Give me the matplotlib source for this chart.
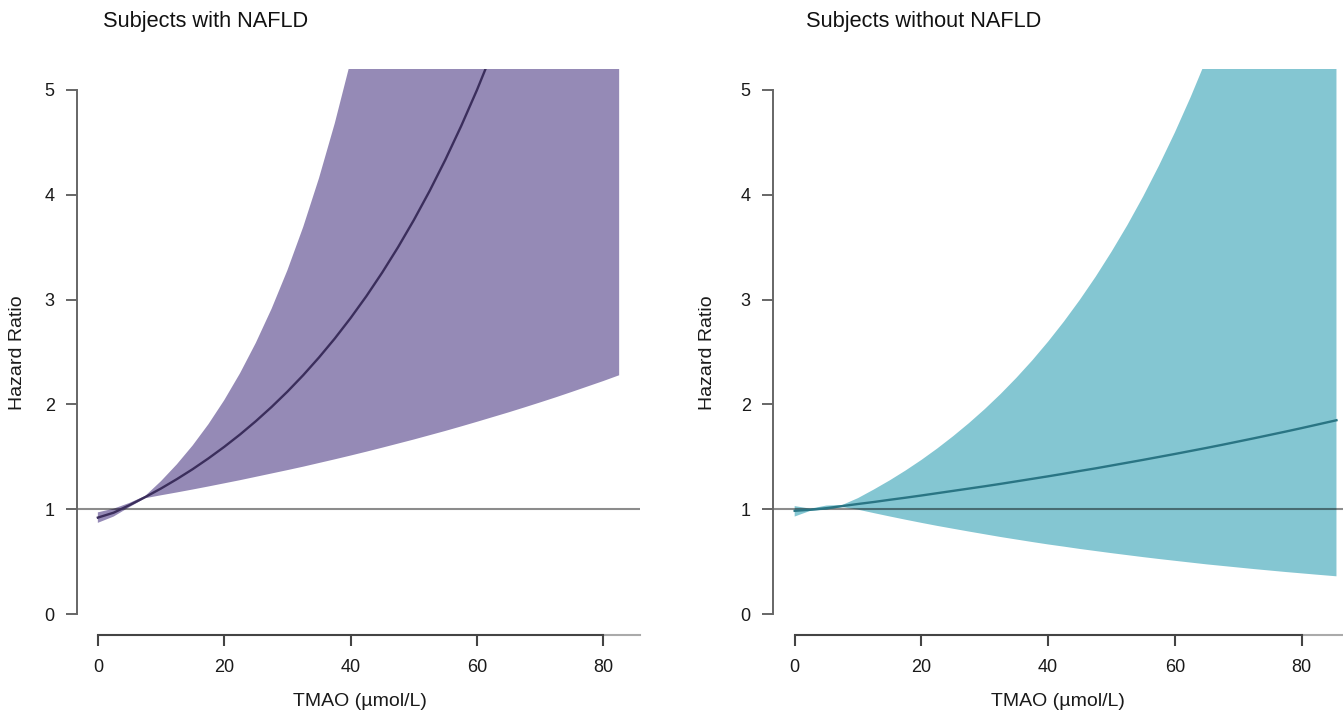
import matplotlib
matplotlib.use("Agg")
import matplotlib.pyplot as plt
import numpy as np

plt.rcParams['font.family'] = ['Liberation Sans', 'DejaVu Sans']

tmao_nafld = [0, 2.5, 5, 7.5, 10, 12.5, 15, 17.5, 20, 22.5, 25, 27.5, 30, 32.5,
              35, 37.5, 40, 42.5, 45, 47.5, 50, 52.5, 55, 57.5, 60, 62.5, 65,
              67.5, 70, 72.5, 75, 77.5, 80, 82.5]
hr_nafld = [0.92, 0.967, 1.039, 1.116, 1.198, 1.287, 1.382, 1.485, 1.595, 1.713,
            1.840, 1.976, 2.122, 2.279, 2.448, 2.629, 2.824, 3.033, 3.258, 3.499,
            3.758, 4.036, 4.335, 4.656, 5.00, 5.371, 5.768, 6.195, 6.655, 7.147,
            7.676, 8.245, 8.855, 9.51]
lo_nafld = [0.87, 0.93, 1.02, 1.105, 1.133, 1.160, 1.188, 1.217, 1.247, 1.277,
            1.309, 1.341, 1.373, 1.406, 1.441, 1.476, 1.512, 1.549, 1.587, 1.626,
            1.665, 1.706, 1.747, 1.790, 1.834, 1.879, 1.924, 1.971, 2.019, 2.068,
            2.119, 2.171, 2.223, 2.278]
hi_nafld = [0.97, 1.005, 1.06, 1.127, 1.268, 1.428, 1.608, 1.811, 2.040, 2.297,
            2.587, 2.913, 3.280, 3.693, 4.159, 4.683, 5.274, 5.94, 6.69, 7.53,
            8.48, 9.55, 10.75, 12.1, 13.6, 15.4, 17.3, 19.5, 21.9, 24.7,
            27.8, 31.3, 35.3, 39.7]

tmao_non = [0, 2.5, 5, 7.5, 10, 12.5, 15, 17.5, 20, 22.5, 25, 27.5, 30, 32.5,
            35, 37.5, 40, 42.5, 45, 47.5, 50, 52.5, 55, 57.5, 60, 62.5, 65,
            67.5, 70, 72.5, 75, 77.5, 80, 82.5, 85.5]
hr_non = [0.985, 0.995, 1.01, 1.03, 1.050, 1.069, 1.090, 1.110, 1.131, 1.153,
          1.175, 1.197, 1.219, 1.242, 1.266, 1.290, 1.314, 1.339, 1.365, 1.390,
          1.417, 1.444, 1.471, 1.499, 1.527, 1.556, 1.585, 1.615, 1.646, 1.677,
          1.709, 1.741, 1.774, 1.808, 1.849]
lo_non = [0.93, 0.985, 0.995, 1.02, 0.996, 0.963, 0.931, 0.900, 0.870, 0.841,
          0.814, 0.787, 0.761, 0.735, 0.711, 0.687, 0.664, 0.643, 0.621, 0.601,
          0.581, 0.562, 0.543, 0.525, 0.508, 0.491, 0.474, 0.459, 0.444, 0.429,
          0.415, 0.401, 0.388, 0.375, 0.360]
hi_non = [1.03, 1.005, 1.035, 1.04, 1.106, 1.188, 1.275, 1.369, 1.470, 1.579,
          1.696, 1.821, 1.955, 2.099, 2.254, 2.420, 2.599, 2.791, 2.997, 3.218,
          3.456, 3.710, 3.984, 4.279, 4.594, 4.933, 5.297, 5.688, 6.108, 6.558,
          7.043, 7.562, 8.12, 8.72, 9.49]

panels = [
    dict(title='Subjects with NAFLD', x=tmao_nafld, hr=hr_nafld, lo=lo_nafld,
         hi=hi_nafld, band='#958ab6', line='#3b2e5c',
         rect=[77 / 1343, 86 / 721, 563 / 1343, 566 / 721], xlim=(-3.3, 85.8),
         title_x=103, ylab_x=18, xlab_x=360),
    dict(title='Subjects without NAFLD', x=tmao_non, hr=hr_non, lo=lo_non,
         hi=hi_non, band='#84c6d2', line='#2a7584',
         rect=[773 / 1343, 86 / 721, 585 / 1343, 566 / 721], xlim=(-3.42, 88.9),
         title_x=806, ylab_x=708, xlab_x=1058),
]

fig = plt.figure(figsize=(13.43, 7.21), dpi=100)

for p in panels:
    ax = fig.add_axes(p['rect'])
    ax.fill_between(p['x'], p['lo'], p['hi'], color=p['band'], lw=0, zorder=1)
    ax.axhline(1, color='black', alpha=0.45, lw=1.5, zorder=2)
    ax.plot(p['x'], p['hr'], color=p['line'], lw=1.7, zorder=3)

    ax.set_xlim(*p['xlim'])
    ax.set_ylim(-0.2, 5.2)
    ax.set_xticks([0, 20, 40, 60, 80])
    ax.set_yticks([0, 1, 2, 3, 4, 5])

    for s in ['top', 'right']:
        ax.spines[s].set_visible(False)
    ax.spines['bottom'].set_bounds(0, 80)
    ax.spines['left'].set_bounds(0, 5)
    ax.spines['bottom'].set_color('#444444')
    ax.spines['left'].set_color('#666666')
    ax.spines['bottom'].set_linewidth(1.5)
    ax.spines['left'].set_linewidth(1.4)
    # faint continuation of the x axis past the last tick
    ax.plot([80, p['xlim'][1]], [-0.2, -0.2], color='#aaaaaa', lw=1.5,
            clip_on=False, zorder=0)

    ax.tick_params(axis='x', length=8, width=1.5, color='#444444', pad=9,
                   labelsize=13, labelcolor='#1a1a1a')
    ax.tick_params(axis='y', length=8, width=1.4, color='#666666', pad=8,
                   labelsize=13, labelcolor='#1a1a1a')

    fig.text(p['title_x'] / 1343, 1 - 27 / 721, p['title'], fontsize=15.7,
             ha='left', va='baseline', color='#111111')
    fig.text(p['ylab_x'] / 1343, 1 - 353 / 721, 'Hazard Ratio', fontsize=14,
             rotation=90, ha='center', va='center', color='#1a1a1a')
    fig.text(p['xlab_x'] / 1343, 1 - 701 / 721, 'TMAO (µmol/L)', fontsize=14,
             ha='center', va='center', color='#1a1a1a')

fig.savefig('out.png', dpi=100)
